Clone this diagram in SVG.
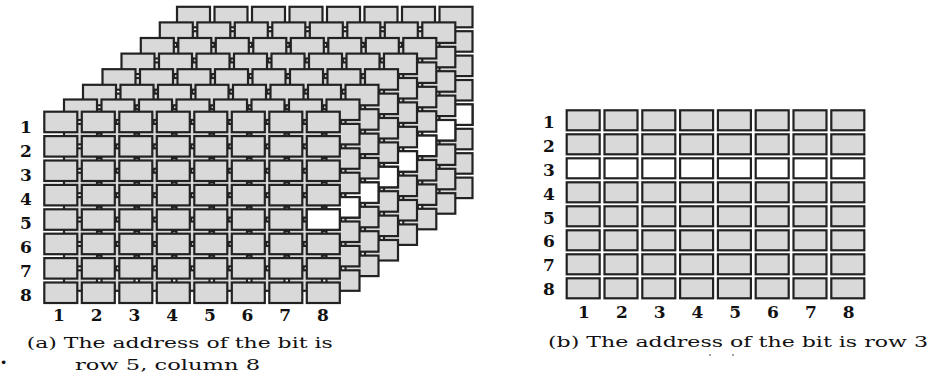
<svg xmlns="http://www.w3.org/2000/svg" xmlns:xlink="http://www.w3.org/1999/xlink" width="932" height="376" viewBox="0 0 932 376">
<style>
.c{fill:#d9d9d9;stroke:#222;stroke-width:2.2}
.w{fill:#ffffff;stroke:#222;stroke-width:2.2}
.lbl{font-family:"DejaVu Serif","Liberation Serif",serif;font-weight:bold;font-size:17px;fill:#111;text-anchor:middle}
.cap{font-family:"DejaVu Serif","Liberation Serif",serif;font-size:15.5px;fill:#111}
</style>
<defs>
<g id="rowA">
<rect class="c" x="1" y="1" width="33" height="20.5"/>
<rect class="c" x="38.5" y="1" width="33" height="20.5"/>
<rect class="c" x="76" y="1" width="33" height="20.5"/>
<rect class="c" x="113.5" y="1" width="33" height="20.5"/>
<rect class="c" x="151" y="1" width="33" height="20.5"/>
<rect class="c" x="188.5" y="1" width="33" height="20.5"/>
<rect class="c" x="226" y="1" width="33" height="20.5"/>
<rect class="c" x="263.5" y="1" width="33" height="20.5"/>
</g>
<g id="gridA">
<use xlink:href="#rowA" href="#rowA" y="0"/>
<use xlink:href="#rowA" href="#rowA" y="24.4"/>
<use xlink:href="#rowA" href="#rowA" y="48.8"/>
<use xlink:href="#rowA" href="#rowA" y="73.2"/>
<use xlink:href="#rowA" href="#rowA" y="97.6"/>
<use xlink:href="#rowA" href="#rowA" y="122"/>
<use xlink:href="#rowA" href="#rowA" y="146.4"/>
<use xlink:href="#rowA" href="#rowA" y="170.8"/>
<rect class="w" x="263.5" y="98.6" width="33" height="20.5"/>
</g>
<g id="rowB">
<rect class="c" x="1" y="1" width="33" height="20"/>
<rect class="c" x="38.8" y="1" width="33" height="20"/>
<rect class="c" x="76.6" y="1" width="33" height="20"/>
<rect class="c" x="114.4" y="1" width="33" height="20"/>
<rect class="c" x="152.2" y="1" width="33" height="20"/>
<rect class="c" x="190" y="1" width="33" height="20"/>
<rect class="c" x="227.8" y="1" width="33" height="20"/>
<rect class="c" x="265.6" y="1" width="33" height="20"/>
</g>
<g id="rowBW">
<rect class="w" x="1" y="1" width="33" height="20"/>
<rect class="w" x="38.8" y="1" width="33" height="20"/>
<rect class="w" x="76.6" y="1" width="33" height="20"/>
<rect class="w" x="114.4" y="1" width="33" height="20"/>
<rect class="w" x="152.2" y="1" width="33" height="20"/>
<rect class="w" x="190" y="1" width="33" height="20"/>
<rect class="w" x="227.8" y="1" width="33" height="20"/>
<rect class="w" x="265.6" y="1" width="33" height="20"/>
</g>
</defs>
<rect width="932" height="376" fill="#ffffff"/>

<g id="stack-a">
<g id="layer8"><use xlink:href="#gridA" href="#gridA" transform="translate(176,5.8)"/></g>
<g id="layer7"><use xlink:href="#gridA" href="#gridA" transform="translate(158.8,21.4)"/></g>
<g id="layer6"><use xlink:href="#gridA" href="#gridA" transform="translate(139.8,37)"/></g>
<g id="layer5"><use xlink:href="#gridA" href="#gridA" transform="translate(120.5,52.6)"/></g>
<g id="layer4"><use xlink:href="#gridA" href="#gridA" transform="translate(101.5,68.2)"/></g>
<g id="layer3"><use xlink:href="#gridA" href="#gridA" transform="translate(82,83.8)"/></g>
<g id="layer2"><use xlink:href="#gridA" href="#gridA" transform="translate(63,98.5)"/></g>
<g id="layer1"><use xlink:href="#gridA" href="#gridA" transform="translate(43.3,110.7)"/></g>
</g>

<g id="labels-a" class="lbl">
<text x="26" y="133.3">1</text>
<text x="26" y="157.2">2</text>
<text x="26" y="181.1">3</text>
<text x="26" y="205">4</text>
<text x="26" y="228.9">5</text>
<text x="26" y="252.8">6</text>
<text x="26" y="276.7">7</text>
<text x="26" y="300.6">8</text>
<text x="59" y="321">1</text>
<text x="96.7" y="321">2</text>
<text x="134.4" y="321">3</text>
<text x="172.1" y="321">4</text>
<text x="209.8" y="321">5</text>
<text x="247.5" y="321">6</text>
<text x="285.2" y="321">7</text>
<text x="322.9" y="321">8</text>
</g>

<g id="caption-a" class="cap">
<text x="26.7" y="348" textLength="306" lengthAdjust="spacingAndGlyphs">(a) The address of the bit is</text>
<text x="75" y="370" textLength="185" lengthAdjust="spacingAndGlyphs">row 5, column 8</text>
</g>
<text x="3.5" y="367" font-family="DejaVu Sans, sans-serif" font-size="13" text-anchor="middle" fill="#111">•</text>

<g id="grid-b" transform="translate(565.7,109.3)">
<use xlink:href="#rowB" href="#rowB" y="0"/>
<use xlink:href="#rowB" href="#rowB" y="24"/>
<use xlink:href="#rowBW" href="#rowBW" y="48"/>
<use xlink:href="#rowB" href="#rowB" y="72"/>
<use xlink:href="#rowB" href="#rowB" y="96"/>
<use xlink:href="#rowB" href="#rowB" y="120"/>
<use xlink:href="#rowB" href="#rowB" y="144"/>
<use xlink:href="#rowB" href="#rowB" y="168"/>
</g>

<g id="labels-b" class="lbl">
<text x="549" y="128.3">1</text>
<text x="549" y="152.1">2</text>
<text x="549" y="175.9">3</text>
<text x="549" y="199.7">4</text>
<text x="549" y="223.5">5</text>
<text x="549" y="247.3">6</text>
<text x="549" y="271.1">7</text>
<text x="549" y="294.9">8</text>
<text x="584" y="318">1</text>
<text x="621.8" y="318">2</text>
<text x="659.6" y="318">3</text>
<text x="697.4" y="318">4</text>
<text x="735.2" y="318">5</text>
<text x="773" y="318">6</text>
<text x="810.8" y="318">7</text>
<text x="848.6" y="318">8</text>
</g>

<g id="caption-b" class="cap">
<text x="548" y="347" textLength="380" lengthAdjust="spacingAndGlyphs">(b) The address of the bit is row 3</text>
</g>
<circle cx="710" cy="355" r="0.9" fill="#777"/>
<circle cx="733" cy="355" r="0.9" fill="#777"/>
</svg>
